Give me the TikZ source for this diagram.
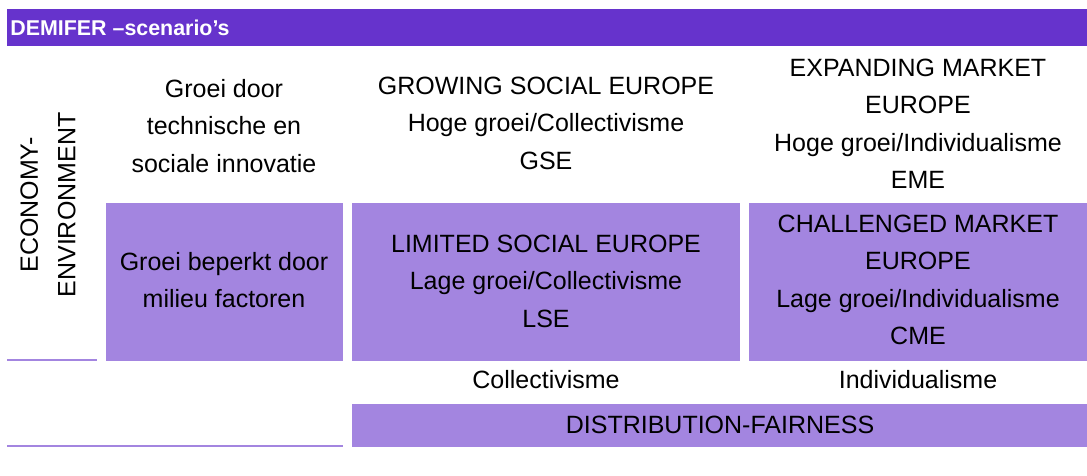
\documentclass[tikz,border=0pt]{standalone}
\usepackage{fontspec}
\setmainfont{Liberation Sans}
\definecolor{demiferdark}{RGB}{102,51,204}
\definecolor{demiferlight}{RGB}{163,133,224}

\begin{document}
\begin{tikzpicture}[x=0.5pt,y=-0.5pt,
    celltext/.style={align=center,font=\fontsize{12.5}{18.75}\selectfont,inner sep=0pt}]
    \useasboundingbox (0,0) rectangle (1087,476);

    % titelbalk
    \fill[demiferdark] (7,9) rectangle (1087,46);
    \node[anchor=west,text=white,inner sep=0pt,font=\bfseries\fontsize{10.7}{12}\selectfont] (titel) at (10,28) {DEMIFER –scenario’s};

    % gekleurde vakken en lijnen
    \foreach \xa/\xb in {106/343,352/740,749/1087}{
        \fill[demiferlight] (\xa,203) rectangle (\xb,361);
    }
    \fill[demiferlight] (352,404) rectangle (1087,447);
    \draw[demiferlight,line width=1pt] (7,360) -- (97,360);
    \draw[demiferlight,line width=1pt] (7,446) -- (343,446);

    % as-label
    \node[celltext,rotate=90] (econ) at (48,205) {ECONOMY-\\ENVIRONMENT};

    % bovenste rij
    \node[celltext] (groei) at (224,126) {Groei door\\technische en\\sociale innovatie};
    \node[celltext] (gse) at (546,123) {GROWING SOCIAL EUROPE\\Hoge groei/Collectivisme\\GSE};
    \node[celltext] (eme) at (918,124) {EXPANDING MARKET\\EUROPE\\Hoge groei/Individualisme\\EME};

    % onderste rij
    \node[celltext] (beperkt) at (224,280) {Groei beperkt door\\milieu factoren};
    \node[celltext] (lse) at (546,281) {LIMITED SOCIAL EUROPE\\Lage groei/Collectivisme\\LSE};
    \node[celltext] (cme) at (918,280) {CHALLENGED MARKET\\EUROPE\\Lage groei/Individualisme\\CME};

    % kolomkoppen onder
    \node[celltext] (coll) at (546,380) {Collectivisme};
    \node[celltext] (indi) at (918,380) {Individualisme};
    \node[celltext] (distr) at (720,425) {DISTRIBUTION-FAIRNESS};
\end{tikzpicture}
\end{document}
